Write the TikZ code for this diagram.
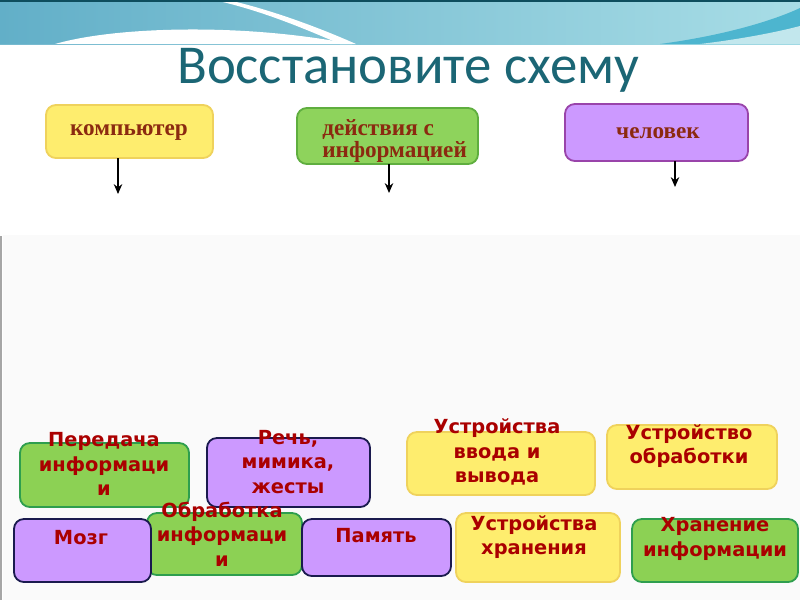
\documentclass[tikz,border=0pt]{standalone}
\usepackage{fontspec}
\setmainfont{Liberation Serif}
\newfontfamily\titlefont{Carlito}
\newfontfamily\boxfont{DejaVu Sans}
\usetikzlibrary{fit,arrows.meta}
\definecolor{hdrL}{HTML}{62AFC8}
\definecolor{hdrR}{HTML}{A8DDE6}
\definecolor{hdrTop}{HTML}{0E4E5E}
\definecolor{streak}{HTML}{4DB5CF}
\definecolor{titlec}{HTML}{1B6675}
\definecolor{yfill}{HTML}{FEED6E}
\definecolor{ydraw}{HTML}{EFD25C}
\definecolor{gfillT}{HTML}{8ED35C}
\definecolor{gdrawT}{HTML}{5FAE3F}
\definecolor{gfill}{HTML}{8CD154}
\definecolor{gdraw}{HTML}{2E9E4E}
\definecolor{pfill}{HTML}{CC99FF}
\definecolor{pdrawT}{HTML}{9944AA}
\definecolor{pdraw}{HTML}{1A1A4E}
\definecolor{toptext}{HTML}{8B2A10}
\definecolor{bottext}{HTML}{AA0000}
\definecolor{lowbg}{HTML}{FAFAFA}
\tikzset{
  boxbase/.style={rectangle, inner sep=0pt, outer sep=0pt, rounded corners=7pt, line width=1.3pt},
  ytop/.style={boxbase, fill=yfill, draw=ydraw},
  gtop/.style={boxbase, fill=gfillT, draw=gdrawT},
  ptop/.style={boxbase, fill=pfill, draw=pdrawT},
  ybox/.style={boxbase, fill=yfill, draw=ydraw},
  gbox/.style={boxbase, fill=gfill, draw=gdraw},
  pbox/.style={boxbase, fill=pfill, draw=pdraw},
  ttxt/.style={inner sep=0pt, text=toptext, font=\fontsize{16.5}{15.2}\selectfont\bfseries, align=left},
  btxt/.style={inner sep=0pt, text=bottext, font=\boxfont\fontsize{13.8}{17.4}\selectfont\bfseries, align=center},
  arr/.style={-{Stealth[length=7pt,width=6pt]}, line width=1.8pt, black}
}
\begin{document}
\begin{tikzpicture}[x=0.025cm,y=-0.025cm]
\useasboundingbox (0,0) rectangle (800,600);
% background
\fill[white] (0,0) rectangle (800,600);
\fill[lowbg] (3,235) rectangle (800,600);
\draw[black!35, line width=0.8pt] (1,236) -- (1,600);
% header band
\fill[left color=hdrL, right color=hdrR] (0,0) rectangle (800,44);
\fill[white] (0,44) -- (55,44) .. controls (100,31) and (180,26) .. (260,32) .. controls (300,35) and (330,40) .. (352,44) -- cycle;
\fill[white] (228,0) .. controls (272,10) and (320,28) .. (356,44) -- (340,44) .. controls (303,28) and (260,10) .. (214,0) -- cycle;
\fill[streak] (660,44) .. controls (720,36) and (770,22) .. (800,8) -- (800,44) -- cycle;
\fill[hdrR!70!white] (700,44) .. controls (750,38) and (785,30) .. (800,26) -- (800,44) -- cycle;
\fill[hdrTop] (0,0) rectangle (800,2);
% title
\node[inner sep=0pt, text=titlec, font=\titlefont\fontsize{39}{41}\selectfont] (title) at (408,70) {Восстановите схему};
% top boxes
\node[ytop, fit={(46,105) (213,158)}] (komp) {};
\node[ttxt] (kompt) at (129,132) {компьютер};
\node[gtop, fit={(297,108) (478,164)}] (deist) {};
\node[ttxt, anchor=west] (deistt) at (322,141) {действия с\\информацией};
\node[ptop, fit={(565,104) (748,161)}] (chel) {};
\node[ttxt] (chelt) at (658,133) {человек};
\coordinate (a1) at (118,194);
\coordinate (a2) at (389,193);
\coordinate (a3) at (675,187);
\draw[arr] (komp.south -| a1) -- (a1);
\draw[arr] (deist.south -| a2) -- (a2);
\draw[arr] (chel.south -| a3) -- (a3);
% bottom boxes, row 1
\node[gbox, fit={(20,443) (189,507)}] (pered) {};
\node[btxt] (peredt) at (104,464) {Передача\\информаци\\и};
\node[pbox, fit={(207,438) (370,507)}] (rech) {};
\node[btxt] (recht) at (288,462) {Речь,\\мимика,\\жесты};
\node[ybox, fit={(407,432) (595,495)}] (vvod) {};
\node[btxt] (vvodt) at (497,452) {Устройства\\ввода и\\вывода};
\node[ybox, fit={(607,425) (777,489)}] (obrU) {};
\node[btxt] (obrUt) at (689,446) {Устройство\\обработки};
% row 2
\node[gbox, fit={(147,513) (302,575)}] (obr) {};
\node[pbox, fit={(14,519) (151,582)}] (mozg) {};
\node[pbox, fit={(302,519) (451,576)}] (pam) {};
\node[btxt] (obrt) at (222,534) {Обработка\\информаци\\и};
\node[btxt] (mozgt) at (81,538) {Мозг};
\node[btxt] (pamt) at (376,536) {Память};
\node[ybox, fit={(456,513) (620,582)}] (hranU) {};
\node[btxt] (hranUt) at (534,537) {Устройства\\хранения};
\node[gbox, fit={(632,519) (798,582)}] (hran) {};
\node[btxt] (hrant) at (715,539) {Хранение\\информации};
\end{tikzpicture}
\end{document}
